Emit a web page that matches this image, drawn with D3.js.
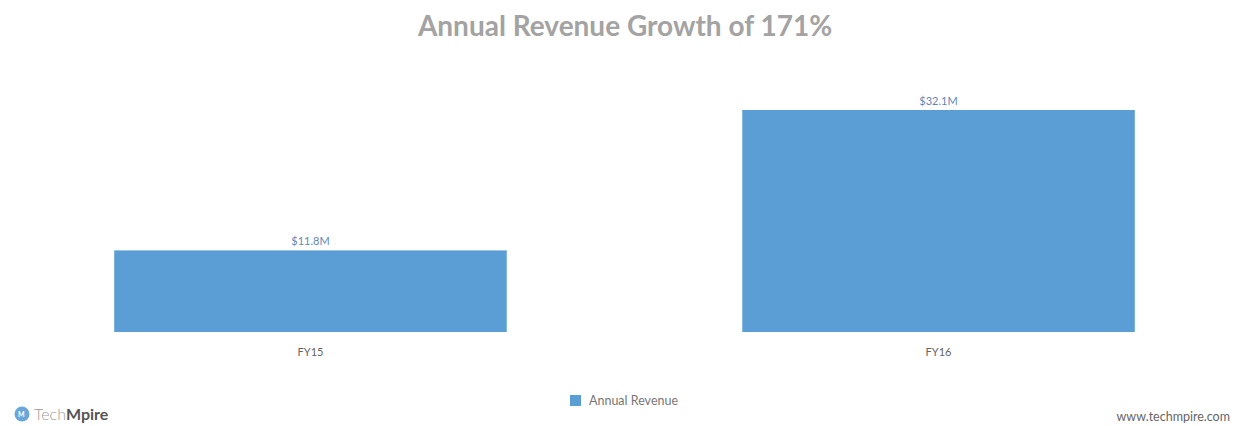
<!DOCTYPE html>
<html lang="en">
<head>
    <meta charset="utf-8">
    <script src="https://d3js.org/d3.v7.min.js"></script>
    <style>
        body { margin: 0; background: #fff; }
        text { font-family: Lato, "Open Sans", sans-serif; }
        .title { font-size: 28px; font-weight: bold; fill: #a3a3a3; }
        .value { font-size: 11px; fill: #5f88b5; }
        .cat { font-size: 11px; fill: #666; }
        .legend { font-size: 12.5px; fill: #777; }
        .site { font-size: 12.5px; fill: #666; }
    </style>
</head>
<body>
<svg width="1238" height="426"></svg>

<script>

// chart data
var categories = ["FY15", "FY16"];
var revenue = [11.8, 32.1];
var valueLabels = ["$11.8M", "$32.1M"];
var seriesName = "Annual Revenue";

var svg = d3.select("svg"),
    width = +svg.attr("width"),
    height = +svg.attr("height");

var barColor = "#5a9ed5";

var x = d3.scaleBand()
    .domain(categories)
    .range([20, 1229])
    .paddingInner(0.375)
    .paddingOuter(0.15);

var y = d3.scaleLinear()
    .domain([0, 32.1])
    .range([332, 110]);

// title
svg.append("text")
    .attr("class", "title")
    .attr("x", 625)
    .attr("y", 36)
    .attr("text-anchor", "middle")
    .text("Annual Revenue Growth of 171%");

// bars
svg.selectAll(".bar")
    .data(revenue)
    .enter().append("rect")
        .attr("class", "bar")
        .attr("x", function(d, i) { return x(categories[i]); })
        .attr("y", function(d) { return y(d); })
        .attr("width", x.bandwidth())
        .attr("height", function(d) { return y(0) - y(d); })
        .attr("fill", barColor);

// value labels above bars
svg.selectAll(".value")
    .data(revenue)
    .enter().append("text")
        .attr("class", "value")
        .attr("x", function(d, i) { return x(categories[i]) + x.bandwidth() / 2; })
        .attr("y", function(d) { return y(d) - 5; })
        .attr("text-anchor", "middle")
        .text(function(d, i) { return valueLabels[i]; });

// category axis (labels only)
var xAxis = svg.append("g")
    .attr("transform", "translate(0," + y(0) + ")")
    .call(d3.axisBottom(x).tickSize(0).tickPadding(16));
xAxis.select(".domain").remove();
xAxis.selectAll("text")
    .attr("class", "cat")
    .attr("font-size", null)
    .attr("font-family", null)
    .attr("fill", null);

// legend
var legend = svg.append("g").attr("transform", "translate(570,395)");
legend.append("rect")
    .attr("width", 11)
    .attr("height", 11)
    .attr("fill", barColor);
legend.append("text")
    .attr("class", "legend")
    .attr("x", 19)
    .attr("y", 10)
    .text(seriesName);

// logo bottom-left
var logo = svg.append("g").attr("transform", "translate(22,414)");
logo.append("circle")
    .attr("r", 7.5)
    .attr("fill", "#6aa7d8");
logo.append("text")
    .attr("x", -4)
    .attr("y", 3)
    .attr("font-size", 7)
    .attr("font-weight", "bold")
    .attr("fill", "#fff")
    .text("M");
var logoText = logo.append("text")
    .attr("x", 12)
    .attr("y", 6)
    .attr("font-size", 16);
logoText.append("tspan").attr("fill", "#9a9a9a").attr("font-weight", 300).text("Tech");
logoText.append("tspan").attr("fill", "#555").attr("font-weight", "bold").text("Mpire");

// site url bottom-right
svg.append("text")
    .attr("class", "site")
    .attr("x", 1230)
    .attr("y", 421)
    .attr("text-anchor", "end")
    .text("www.techmpire.com");

</script>
</body>
</html>
